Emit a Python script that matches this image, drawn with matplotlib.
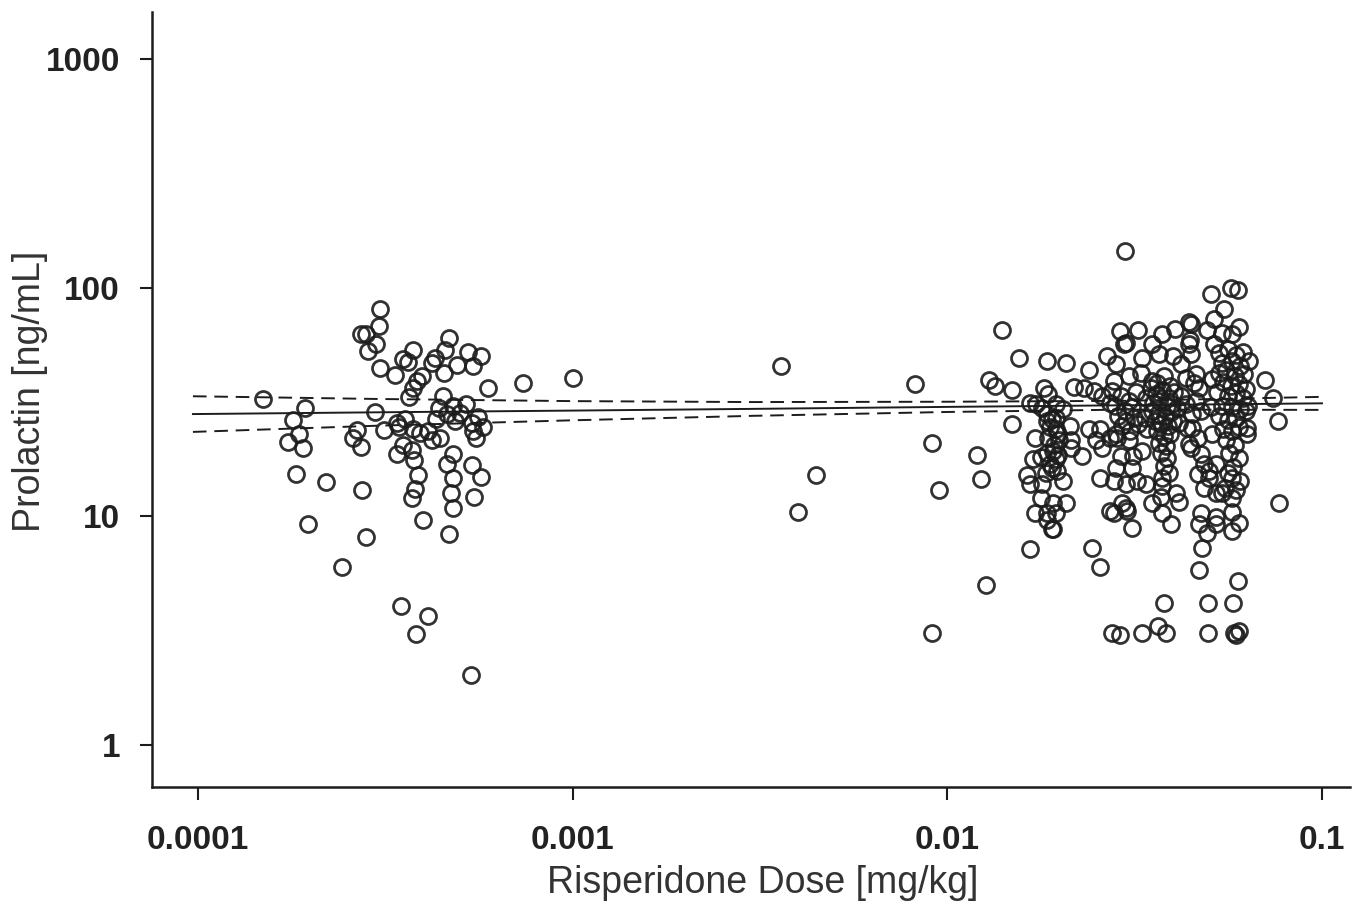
import matplotlib
matplotlib.use('Agg')
import matplotlib.pyplot as plt

# ---- data ----
# low-dose group (~0.0001 - 0.001 mg/kg)
dose_low = [1.49e-4, 1.93e-4, 1.79e-4, 1.86e-4, 1.74e-4, 1.91e-4, 1.83e-4, 2.20e-4, 1.97e-4, 2.42e-4,
            3.06e-4, 3.04e-4, 2.72e-4, 2.81e-4, 2.99e-4, 2.84e-4, 3.06e-4, 2.97e-4, 2.66e-4, 2.59e-4,
            2.72e-4, 2.74e-4, 2.81e-4, 3.36e-4, 3.53e-4, 3.64e-4, 3.75e-4, 3.96e-4, 3.84e-4, 3.75e-4,
            3.66e-4, 4.67e-4, 4.56e-4, 4.29e-4, 4.21e-4, 4.53e-4, 4.91e-4, 5.27e-4, 5.70e-4, 5.42e-4,
            5.94e-4, 7.39e-4, 4.50e-4, 4.39e-4, 4.79e-4, 5.21e-4, 5.00e-4, 4.62e-4, 4.85e-4, 4.32e-4,
            5.60e-4, 5.38e-4, 5.77e-4, 5.42e-4, 5.53e-4, 3.13e-4, 3.40e-4, 3.57e-4, 3.44e-4, 3.75e-4,
            3.91e-4, 4.11e-4, 4.21e-4, 4.42e-4, 3.53e-4, 3.40e-4, 3.73e-4, 3.77e-4, 3.87e-4, 3.79e-4,
            3.73e-4, 4.79e-4, 4.62e-4, 4.79e-4, 5.38e-4, 5.70e-4, 4.73e-4, 4.79e-4, 5.44e-4, 3.98e-4,
            4.67e-4, 3.48e-4, 4.11e-4, 3.82e-4, 5.35e-4]
prl_low = [32.5, 29.9, 26.5, 23.0, 21.2, 20.0, 15.3, 14.1, 9.3, 6.0,
           81.0, 67.8, 62.5, 62.5, 56.5, 52.7, 44.5, 28.7, 23.9, 21.9,
           20.1, 13.0, 8.1, 41.5, 48.8, 47.3, 53.3, 41.1, 39.1, 36.5,
           33.3, 60.0, 53.3, 49.2, 46.8, 42.3, 46.0, 52.2, 50.1, 45.6,
           36.5, 38.3, 33.6, 29.9, 30.5, 31.0, 28.4, 28.1, 26.2, 26.7,
           27.2, 25.6, 24.5, 23.7, 21.9, 23.9, 25.7, 26.7, 24.5, 24.1,
           23.2, 23.7, 21.5, 21.9, 20.5, 18.8, 19.6, 17.6, 15.1, 13.2,
           12.0, 18.8, 17.0, 14.7, 16.8, 14.9, 12.6, 10.9, 12.1, 9.6,
           8.4, 4.04, 3.65, 3.05, 2.02]

# intermediate doses
dose_mid = [1.0e-3, 3.59e-3, 4.45e-3, 4.0e-3, 8.22e-3, 9.1e-3, 9.5e-3, 9.1e-3]
prl_mid = [40.3, 45.6, 15.2, 10.4, 37.9, 21.0, 13.1, 3.08]

# high-dose group (~0.01 - 0.08 mg/kg)
dose_high = [0.0155, 0.0184, 0.0208, 0.0239, 0.0267, 0.0149, 0.0181, 0.0186, 0.0218, 0.0232,
             0.0166, 0.0173, 0.0179, 0.0195, 0.0203, 0.0247, 0.0259, 0.0271, 0.0149, 0.0171,
             0.0169, 0.0178, 0.0190, 0.0195, 0.0199, 0.0191, 0.0195, 0.0190, 0.0212, 0.0214,
             0.0214, 0.0229, 0.0239, 0.0255, 0.0250, 0.0259, 0.0271, 0.0282, 0.0184, 0.0163,
             0.0166, 0.0179, 0.0203, 0.0255, 0.0178, 0.0191, 0.0208, 0.0171, 0.0184, 0.0195,
             0.0190, 0.0271, 0.0184, 0.0192,
             0.0140, 0.0129, 0.0134, 0.0120, 0.0123, 0.0127, 0.0166, 0.0244, 0.0255, 0.0276,
             0.0289, 0.0298, 0.0331, 0.0365, 0.0384, 0.0379, 0.0497, 0.0577, 0.0497, 0.0581,
             0.0599, 0.0588, 0.0479, 0.0470, 0.0595, 0.0506, 0.0570, 0.0595, 0.0549, 0.0514,
             0.0602, 0.0442, 0.0289, 0.0300, 0.0322, 0.0375, 0.0405, 0.0494, 0.0445, 0.0705,
             0.0740, 0.0761, 0.0770, 0.0278, 0.0300, 0.0311, 0.0352, 0.0375, 0.0396, 0.0416,
             0.0470, 0.0494, 0.0521, 0.0574, 0.0599, 0.0574,
             0.0296, 0.0352, 0.0442, 0.0282, 0.0331, 0.0368, 0.0400, 0.0421, 0.0278, 0.0306,
             0.0329, 0.0352, 0.0434, 0.0456, 0.0434, 0.0451, 0.0437, 0.0442, 0.0284, 0.0306,
             0.0291, 0.0314, 0.0331, 0.0282, 0.0311, 0.0278, 0.0300, 0.0320, 0.0339, 0.0375,
             0.0407, 0.0372, 0.0293, 0.0302,
             0.0275, 0.0290, 0.0305, 0.0318, 0.0280, 0.0298, 0.0312, 0.0285, 0.0300, 0.0315,
             0.0292, 0.0308, 0.0322,
             0.0350, 0.0362, 0.0378, 0.0392, 0.0360, 0.0375, 0.0390, 0.0402, 0.0355, 0.0368,
             0.0385, 0.0398, 0.0352, 0.0365, 0.0380, 0.0395, 0.0358, 0.0372, 0.0388, 0.0400,
             0.0362, 0.0378, 0.0392, 0.0368, 0.0383, 0.0372, 0.0386, 0.0378, 0.0390, 0.0375,
             0.0340, 0.0338, 0.0342, 0.0410, 0.0415, 0.0420,
             0.0540, 0.0574, 0.0447, 0.0447, 0.0514, 0.0638, 0.0626, 0.0626, 0.0630, 0.0630,
             0.0460, 0.0470, 0.0460, 0.0475, 0.0451, 0.0466, 0.0447, 0.0475, 0.0485, 0.0466,
             0.0500, 0.0485, 0.0521, 0.0552, 0.0574, 0.0599, 0.0606, 0.0540, 0.0500, 0.0521,
             0.0475, 0.0521,
             0.0530, 0.0560, 0.0590, 0.0615, 0.0540, 0.0575, 0.0605, 0.0530, 0.0555, 0.0585,
             0.0620, 0.0545, 0.0570, 0.0600, 0.0525, 0.0560, 0.0590, 0.0615, 0.0540, 0.0575,
             0.0605, 0.0530, 0.0560, 0.0590, 0.0545, 0.0575, 0.0600, 0.0555, 0.0585, 0.0565,
             0.0580, 0.0560, 0.0590, 0.0575, 0.0510, 0.0505, 0.0510, 0.0635,
             0.0185, 0.0195, 0.0188, 0.0198, 0.0186, 0.0193, 0.0185, 0.0197, 0.0188, 0.0196,
             0.0183]
prl_high = [49.2, 47.7, 46.8, 43.6, 50.2, 35.7, 36.5, 34.3, 36.8, 36.5,
            31.4, 31.1, 29.9, 31.1, 29.6, 35.4, 33.7, 31.4, 25.4, 22.0,
            17.9, 18.1, 26.7, 24.1, 21.5, 19.4, 17.9, 16.3, 24.9, 21.5,
            19.9, 18.4, 24.1, 24.1, 21.5, 19.9, 22.0, 23.0, 26.2, 15.1,
            13.9, 13.9, 14.3, 14.7, 12.0, 11.4, 11.4, 10.3, 10.3, 10.3,
            8.8, 10.6, 9.6, 8.8,
            65.2, 39.5, 37.2, 18.6, 14.6, 5.0, 7.2, 7.3, 6.0, 3.1,
            3.02, 145.0, 3.1, 3.33, 3.1, 4.16, 4.16, 4.16, 3.1, 3.1,
            3.15, 3.02, 7.3, 5.8, 5.2, 93.6, 100.0, 98.0, 80.7, 72.9,
            67.6, 70.8, 64.5, 57.0, 65.0, 63.0, 65.7, 65.0, 59.3, 39.5,
            33.0, 26.2, 11.4, 10.3, 10.9, 8.9, 11.4, 10.3, 9.3, 11.5,
            9.3, 8.5, 9.3, 10.4, 9.4, 8.6,
            56.8, 56.8, 56.8, 46.3, 49.2, 51.3, 50.2, 46.3, 39.1, 41.1,
            42.3, 39.1, 40.3, 38.1, 31.1, 28.1, 24.4, 20.8, 22.0, 21.5,
            18.4, 18.4, 19.4, 16.3, 16.3, 14.3, 13.9, 14.3, 13.9, 13.6,
            12.6, 12.1, 11.4, 10.6,
            35.4, 33.7, 32.0, 35.0, 30.5, 29.0, 30.0, 27.6, 26.2, 27.0,
            24.9, 23.7, 25.4,
            36.5, 38.1, 41.1, 37.2, 34.3, 35.7, 33.0, 35.0, 31.4, 32.0,
            30.5, 31.1, 29.0, 28.1, 27.6, 28.6, 26.2, 25.4, 24.9, 26.2,
            23.7, 22.5, 23.0, 21.0, 20.3, 19.0, 18.0, 16.6, 15.5, 14.7,
            33.0, 27.0, 24.0, 29.8, 25.5, 33.5,
            63.3, 62.8, 69.0, 51.3, 56.8, 47.7, 36.2, 29.0, 24.4, 23.0,
            41.8, 36.3, 32.0, 29.0, 24.4, 22.0, 19.9, 18.8, 17.0, 15.3,
            14.7, 13.3, 12.6, 13.3, 14.7, 18.0, 14.3, 12.6, 15.8, 17.0,
            10.3, 9.9,
            52.0, 54.0, 50.5, 52.5, 47.0, 48.0, 45.5, 42.5, 43.5, 41.0,
            42.0, 38.5, 37.0, 38.0, 35.0, 33.5, 34.5, 33.0, 30.5, 30.0,
            29.5, 27.5, 26.5, 27.0, 24.0, 23.5, 24.5, 21.5, 20.5, 19.0,
            16.5, 15.5, 13.0, 12.0, 40.0, 30.0, 23.0, 30.5,
            28.0, 27.0, 24.5, 23.0, 22.0, 20.5, 19.0, 18.5, 17.0, 15.8,
            15.5]

# fitted line and 95% band
fit_dose = [9.7e-5, 3e-4, 1e-3, 3e-3, 0.01, 0.03, 0.1]
fit_mid = [28.0, 28.5, 29.0, 29.5, 30.1, 30.6, 31.2]
fit_upper = [33.5, 32.6, 31.9, 31.6, 31.7, 32.0, 33.3]
fit_lower = [23.4, 24.9, 26.3, 27.5, 28.6, 29.3, 29.2]

xticks = [1e-4, 1e-3, 1e-2, 1e-1]
xticklabels = ['0.0001', '0.001', '0.01', '0.1']
yticks = [1, 10, 100, 1000]
yticklabels = ['1', '10', '100', '1000']

plt.rcParams['font.family'] = ['Liberation Sans', 'DejaVu Sans']

fig = plt.figure(figsize=(13.53, 9.07), dpi=100)
ax = fig.add_axes([0.1123, 0.1323, 0.8855, 0.8545])

ink = '#1c1c1c'
dose = dose_low + dose_mid + dose_high
prl = prl_low + prl_mid + prl_high
ax.plot(dose, prl, 'o', ms=11.5, mfc='none', mec=ink, mew=2.0, alpha=0.9, zorder=3)

ax.plot(fit_dose, fit_mid, '-', color=ink, lw=1.4, zorder=2)
ax.plot(fit_dose, fit_upper, '--', color=ink, lw=1.4, dashes=(7, 4), zorder=2)
ax.plot(fit_dose, fit_lower, '--', color=ink, lw=1.4, dashes=(7, 4), zorder=2)

ax.set_xscale('log')
ax.set_yscale('log')
ax.set_xlim(7.54e-5, 0.1188)
ax.set_ylim(0.656, 1603)

ax.set_xticks(xticks)
ax.set_xticklabels(xticklabels)
ax.set_yticks(yticks)
ax.set_yticklabels(yticklabels)
ax.minorticks_off()

for lab in ax.get_xticklabels() + ax.get_yticklabels():
    lab.set_fontweight('bold')
    lab.set_fontsize(24)
    lab.set_color('#222222')

ax.tick_params(axis='both', length=9, width=1.5, color=ink, direction='out')
ax.tick_params(axis='x', pad=18)
ax.tick_params(axis='y', pad=14)

for s in ['top', 'right']:
    ax.spines[s].set_visible(False)
for s in ['left', 'bottom']:
    ax.spines[s].set_linewidth(1.8)
    ax.spines[s].set_color(ink)

ax.set_xlabel('Risperidone Dose [mg/kg]', fontsize=27, color='#333333')
ax.set_ylabel('Prolactin [ng/mL]', fontsize=27, color='#333333')
ax.xaxis.set_label_coords(0.51, -0.124)
ax.yaxis.set_label_coords(-0.102, 0.51)
ax.xaxis.label.set_va('center')
ax.yaxis.label.set_va('center')

plt.savefig('out.png', dpi=100)
